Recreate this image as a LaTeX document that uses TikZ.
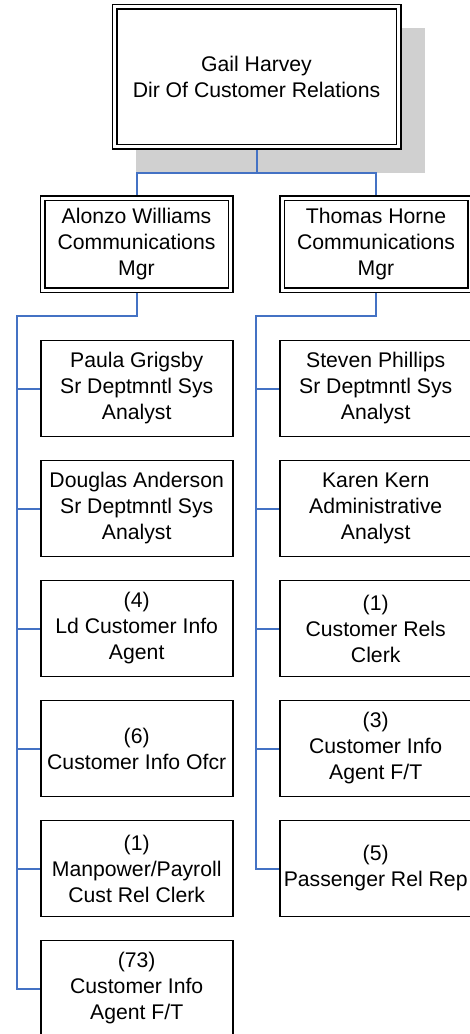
\documentclass[tikz,border=0pt]{standalone}
\usepackage{fontspec}
\setmainfont{Liberation Sans}
\usetikzlibrary{backgrounds}
\definecolor{connblue}{HTML}{4472C4}
\definecolor{shadowgray}{HTML}{D0D0D0}
\begin{document}
\begin{tikzpicture}[x=1pt,y=-1pt,
  every node/.style={font=\fontsize{21.2}{26}\selectfont, align=center, inner sep=0pt},
  mgrbox/.style={draw=black, double=white, double distance=3pt, line width=1.5pt, fill=white, minimum width=188pt, minimum height=92pt},
  topbox/.style={mgrbox, minimum width=284pt, minimum height=140pt},
  staffbox/.style={draw=black, line width=1.8pt, fill=white, minimum width=192pt, minimum height=96pt},
  conn/.style={draw=connblue, line width=2pt}]
\useasboundingbox (0,0) rectangle (469,1034);

\node[topbox] (gh) at (256.5,76.5) {Gail Harvey\\Dir Of Customer Relations};
\node[mgrbox] (aw) at (136.5,244.3) {Alonzo Williams\\Communications\\Mgr};
\node[mgrbox] (th) at (376,244.3) {Thomas Horne\\Communications\\Mgr};

\node[staffbox] (l1) at (136.7,388.5) {Paula Grigsby\\Sr Deptmntl Sys\\Analyst};
\node[staffbox] (l2) at (136.7,508.5) {Douglas Anderson\\Sr Deptmntl Sys\\Analyst};
\node[staffbox] (l3) at (136.7,628.5) {(4)\\Ld Customer Info\\Agent};
\node[staffbox] (l4) at (136.7,748.5) {(6)\\Customer Info Ofcr};
\node[staffbox] (l5) at (136.7,868.5) {(1)\\Manpower/Payroll\\Cust Rel Clerk};
\node[staffbox] (l6) at (136.7,988.5) {(73)\\Customer Info\\Agent F/T};

\node[staffbox] (r1) at (375.7,388.5) {Steven Phillips\\Sr Deptmntl Sys\\Analyst};
\node[staffbox] (r2) at (375.7,508.5) {Karen Kern\\Administrative\\Analyst};
\node[staffbox] (r3) at (375.7,628.5) {(1)\\Customer Rels\\Clerk};
\node[staffbox] (r4) at (375.7,748.5) {(3)\\Customer Info\\Agent F/T};
\node[staffbox] (r5) at (375.7,868.5) {(5)\\Passenger Rel Rep};

\begin{scope}[on background layer]
  \fill[shadowgray] (136,28) rectangle (425,173);
  \coordinate (j) at (256.5,172.5);
  \draw[conn] (gh.center) -- (j);
  \draw[conn] (aw.center) |- (j) -| (th.center);
  \coordinate (lb) at (16.7,316);
  \coordinate (rb) at (256,316);
  \draw[conn] (aw.center) |- (lb) -- (lb |- l6.west) -- (l6.west);
  \foreach \k in {1,...,5} { \draw[conn] (lb |- l\k.west) -- (l\k.west); }
  \draw[conn] (th.center) |- (rb) -- (rb |- r5.west) -- (r5.west);
  \foreach \k in {1,...,4} { \draw[conn] (rb |- r\k.west) -- (r\k.west); }
\end{scope}
\end{tikzpicture}
\end{document}
